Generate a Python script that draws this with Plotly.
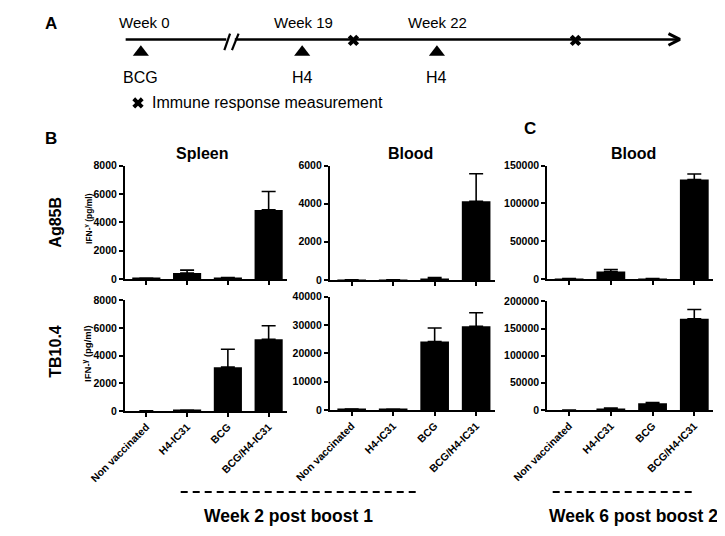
import plotly.graph_objects as go

W, H = 725, 536
OFF = 8  # the page body adds an 8px margin around the figure
FONT = "Liberation Sans, Arial, sans-serif"

# ---------------- data ----------------
categories = ["Non vaccinated", "H4-IC31", "BCG", "BCG/H4-IC31"]

spleen_ag85b = [50, 420, 100, 4870]
spleen_ag85b_err = [0, 200, 0, 1300]
blood_ag85b = [10, 10, 80, 4120]
blood_ag85b_err = [0, 0, 40, 1450]
blood6_ag85b = [500, 9900, 500, 131500]
blood6_ag85b_err = [0, 2500, 0, 7300]

spleen_tb104 = [0, 50, 3170, 5190]
spleen_tb104_err = [0, 0, 1300, 980]
blood_tb104 = [300, 250, 24100, 29500]
blood_tb104_err = [0, 0, 4800, 4800]
blood6_tb104 = [0, 2400, 12500, 168000]
blood6_tb104_err = [0, 1200, 1200, 17000]

yticks_spleen = [0, 2000, 4000, 6000, 8000]
yticks_blood_ag = [0, 2000, 4000, 6000]
yticks_c_ag = [0, 50000, 100000, 150000]
yticks_blood_tb = [0, 10000, 20000, 30000, 40000]
yticks_c_tb = [0, 50000, 100000, 150000, 200000]

# timeline schematic (positions along the schematic axis)
week_labels = ["Week 0", "Week 19", "Week 22"]
vaccine_labels = ["BCG", "H4", "H4"]
vaccine_pos = [109, 279, 421]
measure_pos = [333, 567]
timeline_start, timeline_break, timeline_end = 93, 203, 677

# ---------------- layout helpers (page pixels -> paper fractions) ----------------
def px(x):
    return (x - OFF) / W

def py(y):
    return 1 - (y - OFF) / H

panels = [
    # values, errors, yticks, (x0, x1), (ytop, ybottom), show x labels
    (spleen_ag85b, spleen_ag85b_err, yticks_spleen, (92, 263), (163, 279), False),
    (blood_ag85b, blood_ag85b_err, yticks_blood_ag, (308, 482), (163, 280), False),
    (blood6_ag85b, blood6_ag85b_err, yticks_c_ag, (537, 712), (163, 279), False),
    (spleen_tb104, spleen_tb104_err, yticks_spleen, (92, 263), (301, 414), True),
    (blood_tb104, blood_tb104_err, yticks_blood_tb, (308, 482), (297, 413), True),
    (blood6_tb104, blood6_tb104_err, yticks_c_tb, (537, 712), (302, 413), True),
]

fig = go.Figure()
layout = {}
for i, (vals, errs, yt, (x0, x1), (yt0, yb), showlab) in enumerate(panels, start=1):
    xa = "x" if i == 1 else f"x{i}"
    ya = "y" if i == 1 else f"y{i}"
    fig.add_trace(go.Bar(
        x=list(range(len(categories))), y=vals, width=0.69,
        marker=dict(color="black", line=dict(width=0)),
        error_y=dict(type="data", symmetric=False, array=errs,
                     arrayminus=[0] * len(errs), color="black",
                     thickness=1.6, width=7),
        xaxis=xa, yaxis=ya, showlegend=False, hoverinfo="skip",
    ))
    layout[f"xaxis{i if i > 1 else ''}"] = dict(
        domain=[px(x0), px(x1)], range=[-0.53, 3.45], anchor=ya,
        showline=True, linecolor="black", linewidth=1.6,
        ticks="outside", ticklen=4, tickwidth=1.5, tickcolor="black",
        tickvals=list(range(len(categories))), ticktext=categories,
        showticklabels=showlab, tickangle=-45,
        tickfont=dict(family=FONT, size=10.5, color="black", weight="bold"),
        showgrid=False, zeroline=False, fixedrange=True,
    )
    layout[f"yaxis{i if i > 1 else ''}"] = dict(
        domain=[py(yb), py(yt0)], range=[0, yt[-1]], anchor=xa,
        showline=True, linecolor="black", linewidth=1.6,
        ticks="outside", ticklen=4, tickwidth=1.5, tickcolor="black",
        tickvals=yt, ticktext=[str(v) for v in yt],
        tickfont=dict(family=FONT, size=10.5, color="black", weight="bold"),
        showgrid=False, zeroline=False, fixedrange=True,
    )

# ---------------- timeline (panel A) ----------------
TL = 7
layout[f"xaxis{TL}"] = dict(domain=[0, 1], range=[OFF, W + OFF], visible=False,
                            anchor=f"y{TL}", fixedrange=True)
layout[f"yaxis{TL}"] = dict(domain=[py(115), 1], range=[115, OFF], visible=False,
                            anchor=f"x{TL}", fixedrange=True)
line_y = 34
fig.add_trace(go.Scatter(
    x=[timeline_start, timeline_break - 4, None, timeline_break + 5, timeline_end],
    y=[line_y, line_y, None, line_y, line_y],
    mode="lines", line=dict(color="black", width=2.5),
    xaxis=f"x{TL}", yaxis=f"y{TL}", showlegend=False, hoverinfo="skip"))
# arrow head
fig.add_trace(go.Scatter(
    x=[timeline_end - 12, timeline_end, timeline_end - 12],
    y=[line_y - 6, line_y, line_y + 6],
    mode="lines", line=dict(color="black", width=3),
    xaxis=f"x{TL}", yaxis=f"y{TL}", showlegend=False, hoverinfo="skip"))
# break marks
fig.add_trace(go.Scatter(
    x=[timeline_break - 6, timeline_break, None, timeline_break + 2, timeline_break + 9],
    y=[45, 28, None, 45, 28],
    mode="lines", line=dict(color="black", width=2.2),
    xaxis=f"x{TL}", yaxis=f"y{TL}", showlegend=False, hoverinfo="skip"))
# vaccinations
fig.add_trace(go.Scatter(
    x=vaccine_pos, y=[47] * len(vaccine_pos), mode="markers",
    marker=dict(symbol="triangle-up", size=14, color="black"),
    xaxis=f"x{TL}", yaxis=f"y{TL}", showlegend=False, hoverinfo="skip"))
# measurements (+ legend symbol)
fig.add_trace(go.Scatter(
    x=measure_pos + [106], y=[line_y + 1] * len(measure_pos) + [99], mode="markers",
    marker=dict(symbol="x", size=10, color="black"),
    xaxis=f"x{TL}", yaxis=f"y{TL}", showlegend=False, hoverinfo="skip"))

annotations = []

def ann(text, x, y, size, bold=False, angle=0, xanchor="center"):
    annotations.append(dict(
        text=text, x=px(x), y=py(y), xref="paper", yref="paper",
        showarrow=False, xanchor=xanchor, yanchor="middle", textangle=angle,
        font=dict(family=FONT, size=size, color="black",
                  weight="bold" if bold else "normal")))

for lab, pos in zip(week_labels, vaccine_pos):
    ann(lab, pos + (4 if lab == "Week 0" else 1), 17, 15)
for lab, pos in zip(vaccine_labels, vaccine_pos):
    ann(lab, pos, 73, 16)
ann("Immune response measurement", 119, 99, 16, xanchor="left")

# panel letters
ann("A", 14, 18, 17, bold=True)
ann("B", 14, 135, 17, bold=True)
ann("C", 519, 125, 17, bold=True)

# column titles
ann("Spleen", 173, 151, 16, bold=True)
ann("Blood", 393, 151, 16, bold=True)
ann("Blood", 628, 151, 16, bold=True)

# row labels
ann("Ag85B", 19, 221, 16, bold=True, angle=-90)
ann("TB10.4", 19, 353, 16, bold=True, angle=-90)

# y-axis titles
ann("IFN-<sup>γ</sup> (pg/ml)", 54, 217, 8.5, bold=True, angle=-90)
ann("IFN-<sup>γ</sup> (pg/ml)", 53, 356, 9.5, bold=True, angle=-90)

# bottom labels
ann("Week 2 post boost 1", 265, 521, 17.5, bold=True)
ann("Week 6 post boost 2", 628, 521, 17.5, bold=True)

shapes = [
    dict(type="line", xref="paper", yref="paper", x0=px(151), x1=px(401),
         y0=py(497), y1=py(497), line=dict(color="black", width=2, dash="7px,5px")),
    dict(type="line", xref="paper", yref="paper", x0=px(543), x1=px(691),
         y0=py(497), y1=py(497), line=dict(color="black", width=2, dash="7px,5px")),
]

fig.update_layout(
    width=W, height=H, autosize=False,
    margin=dict(l=0, r=0, t=0, b=0),
    paper_bgcolor="white", plot_bgcolor="white",
    annotations=annotations, shapes=shapes, bargap=0.3,
    font=dict(family=FONT, color="black"),
    **layout,
)

fig.write_html("out.html")
